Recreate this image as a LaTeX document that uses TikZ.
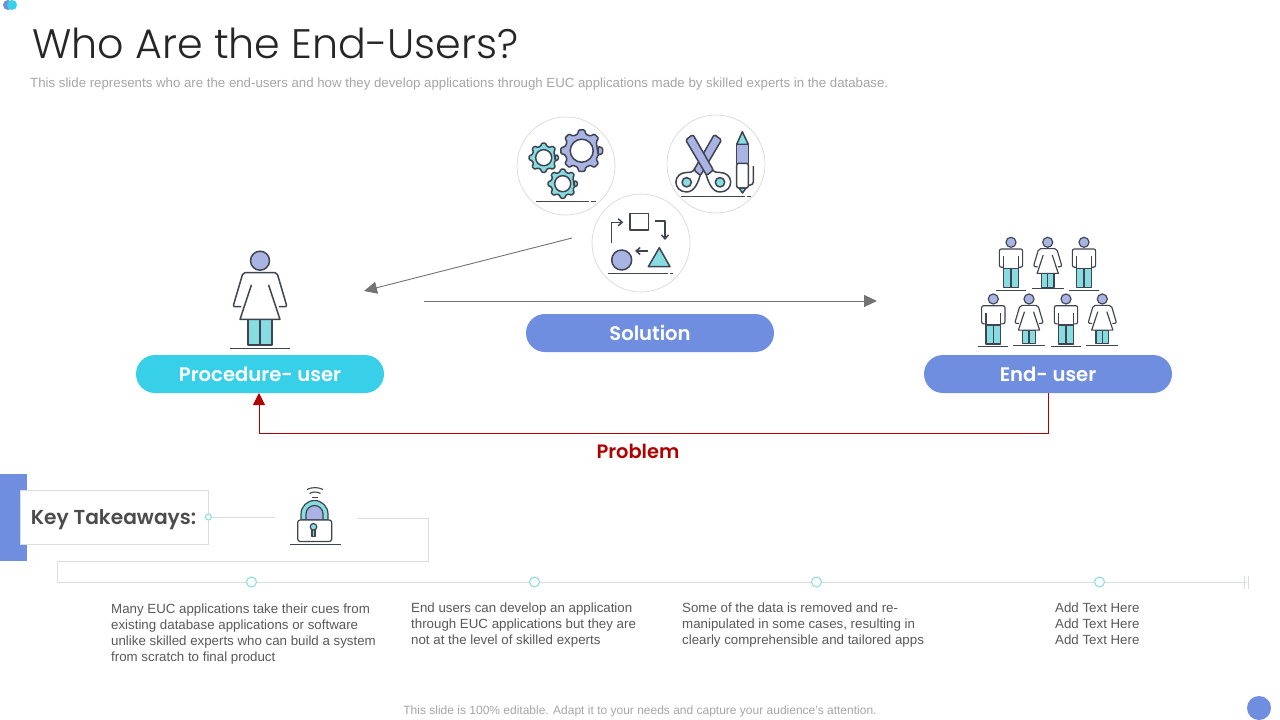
\documentclass[tikz,border=0pt]{standalone}
\usepackage{fontspec}
\setmainfont{Liberation Sans}
\newfontfamily\headfont{Poppins SemiBold}
\newfontfamily\titlefont{Poppins Light}
\usetikzlibrary{arrows.meta}
\definecolor{inkline}{HTML}{3F4450}
\definecolor{iconblue}{HTML}{A9B4E4}
\definecolor{iconteal}{HTML}{86DCE0}
\definecolor{pillblue}{HTML}{6F8EE0}
\definecolor{pillcyan}{HTML}{38D0E8}
\definecolor{wiregray}{HTML}{DADDE0}
\definecolor{bodygray}{HTML}{595959}
\definecolor{probred}{HTML}{B00000}
\tikzset{
  pill/.style={rounded corners=19pt, minimum width=248pt, minimum height=38pt, inner sep=0pt, text=white, font=\headfont\fontsize{19.6}{19.6}\selectfont},
  iconring/.style={draw=black!15, fill=white, circle, minimum size=98pt, inner sep=0pt, line width=.7pt},
  tickdot/.style={draw=iconteal, fill=white, circle, minimum size=10pt, inner sep=0pt, line width=1pt},
  bodytext/.style={text=bodygray, align=left, anchor=north west, inner sep=0pt, font=\fontsize{13.3}{16}\selectfont},
  icon/.style={draw=inkline, line width=1.5pt, line join=round},
  thinicon/.style={draw=inkline, line width=1.15pt, line join=round},
  pics/womanfig/.style={code={
    \draw[#1, fill=iconteal] (-12,58.7) rectangle (12,84.5);
    \draw[#1] (0,58.7) -- (0,84.5);
    \draw[#1, rounded corners=2pt] (-19,46) -- (-27,46) -- (-17,12) -- (17,12) -- (27,46) -- (19,46);
    \draw[#1, fill=white] (-8.5,24) -- (-20,58.7) -- (20,58.7) -- (8.5,24);
    \draw[#1, fill=iconblue] (0,0) circle (9.5);
    \draw[inkline, line width=.9pt] (-30,88) -- (30,88);
  }},
  pics/manfig/.style={code={
    \draw[#1, fill=iconteal] (-13.8,49) rectangle (13.8,85);
    \draw[#1] (0,49) -- (0,85);
    \draw[#1, rounded corners=2pt] (-13.8,47) -- (-22,47) -- (-22,12.6) -- (22,12.6) -- (22,47) -- (13.8,47);
    \draw[#1] (-13.8,26) -- (-13.8,85) (13.8,26) -- (13.8,85);
    \draw[#1, fill=iconblue] (0,0) circle (9.5);
    \draw[inkline, line width=.9pt] (-28,90) -- (28,90);
  }},
  pics/gearfig/.style={code={
    \draw[icon, fill=#1, rounded corners=1pt] (14:17) \foreach \a in {0,45,...,315} { -- (\a-14:17) -- (\a-8:21) -- (\a+8:21) -- (\a+14:17) } -- cycle;
    \draw[icon, fill=white] (0,0) circle (11.5);
  }}
}
\begin{document}
\begin{tikzpicture}[x=1pt, y=-1pt]
  \useasboundingbox (0,0) rectangle (1280,720);
  \fill[white] (0,0) rectangle (1280,720);

  \fill[pillblue] (8,5) circle (5);
  \fill[pillcyan] (12,5) circle (5);
  \fill[pillblue] (1259,708) circle (12);

  \node (title) at (32,43) [anchor=west, inner sep=0pt, text=black!85, font=\titlefont\fontsize{41.2}{44}\selectfont] {Who Are the End-Users?};
  \node (subtitle) at (30,84) [anchor=west, inner sep=0pt, text=black!35, font=\fontsize{13.25}{14}\selectfont] {This slide represents who are the end-users and how they develop applications through EUC applications made by skilled experts in the database.};
  \node (footer) at (640,711) [inner sep=0pt, text=black!35, font=\fontsize{12}{14}\selectfont] {This slide is 100\% editable. Adapt it to your needs and capture your audience's attention.};

  \node (gearring) at (566,166) [iconring] {};
  \node (cutring) at (716,164) [iconring] {};
  \node (shapering) at (641,243) [iconring] {};

  \pic at (581.7,150.7) {gearfig=iconblue};
  \pic[scale=.7] at (543.7,157.7) {gearfig=iconteal};
  \pic[scale=.7] at (562.7,183.7) {gearfig=iconteal};
  \draw[inkline, line width=.9pt] (536,201) -- (589,201) (591,201) -- (596,201);

  \draw[icon, fill=white] (705.5,172) .. controls (708,182) and (712,192) .. (720,192) .. controls (727,192) and (730.7,187) .. (730.7,182) .. controls (730.7,176.5) and (726,172.5) .. (720,172.5) .. controls (717,172.5) and (714,173) .. (711.5,168);
  \draw[icon, fill=white] (701.1,172) .. controls (698.6,182) and (694.6,192) .. (686.6,192) .. controls (679.6,192) and (675.9,187) .. (675.9,182) .. controls (675.9,176.5) and (680.6,172.5) .. (686.6,172.5) .. controls (689.6,172.5) and (692.6,173) .. (695.1,168);
  \draw[icon, fill=iconblue, rounded corners=1.5pt] (721.5,140) -- (714.3,134.5) -- (693.9,170) -- (700.5,175.5) -- cycle;
  \draw[icon, fill=iconblue, rounded corners=1.5pt] (685.7,140) -- (692.9,134.5) -- (713.3,170) -- (706.7,175.5) -- cycle;
  \draw[icon, fill=iconteal] (686.7,182.3) circle (4.7);
  \draw[icon, fill=iconteal] (720,182.3) circle (4.7);
  \draw[icon, fill=iconteal] (736.7,144.3) -- (742.3,131.7) -- (748.3,144.3) -- cycle;
  \draw[icon, fill=iconblue] (736.7,144.3) rectangle (748.3,163.3);
  \draw[icon, fill=white, rounded corners=2pt] (736.7,163.3) -- (736.7,188) -- (748.3,188) -- (748.3,163.3) -- cycle;
  \draw[icon, fill=iconteal] (739,188) -- (742.5,193) -- (746,188) -- cycle;
  \draw[icon, rounded corners=3pt] (748.3,185) -- (753.3,185) -- (753.3,166);
  \draw[inkline, line width=.9pt] (681,196) -- (745,196) (747,196) -- (751,196);

  \draw[icon] (630,213.7) rectangle (648.3,230);
  \draw[icon, -{Straight Barb[length=4pt,width=7pt]}] (611.7,243.3) -- (611.7,222.3) -- (623.3,222.3);
  \draw[icon, -{Straight Barb[length=4pt,width=7pt]}] (655,221) -- (665,221) -- (665,240);
  \draw[icon, -{Straight Barb[length=4pt,width=7pt]}] (648.3,251) -- (635,251);
  \draw[icon, fill=iconblue] (621.7,260) circle (10);
  \draw[icon, fill=iconteal] (648.3,266.7) -- (670,266.7) -- (659.3,247.7) -- cycle;
  \draw[inkline, line width=.9pt] (608,273.3) -- (668,273.3) (670,273.3) -- (673,273.3);

  \pic at (260,260.7) {womanfig=icon};
  \pic[scale=.53] at (1011,242.3) {manfig=thinicon};
  \pic[scale=.53] at (1047.7,242.3) {womanfig=thinicon};
  \pic[scale=.53] at (1084,242.3) {manfig=thinicon};
  \pic[scale=.53] at (993.3,299) {manfig=thinicon};
  \pic[scale=.53] at (1029,299) {womanfig=thinicon};
  \pic[scale=.53] at (1066,299) {manfig=thinicon};
  \pic[scale=.53] at (1102.3,299) {womanfig=thinicon};

  \node (procuser) at (260,374) [pill, fill=pillcyan] {Procedure- user};
  \node (solution) at (650,333) [pill, fill=pillblue] {Solution};
  \node (enduser) at (1048,374) [pill, fill=pillblue] {End- user};
  \node (problem) at (638,451) [inner sep=0pt, text=probred, font=\headfont\fontsize{19.4}{19.4}\selectfont] {Problem};

  \coordinate (backfrom) at (572,238);
  \coordinate (backto) at (364,291);
  \coordinate (solfrom) at (424,301);
  \coordinate (solto) at (877,301);
  \coordinate (probto) at (259,393);
  \draw[black!55, line width=.9pt, -{Triangle[length=13pt,width=12pt]}] (backfrom) -- (backto);
  \draw[black!55, line width=.9pt, -{Triangle[length=13pt,width=12pt]}] (solfrom) -- (solto);
  \draw[probred, line width=.9pt, -{Triangle[length=12pt,width=12pt]}] (enduser.south) -- (1048,433) -| (probto);

  \fill[pillblue] (0,474) rectangle (27,561);
  \node (keybox) at (114,517) [draw=wiregray, fill=white, minimum width=188pt, minimum height=54pt, inner sep=0pt, line width=.8pt] {};
  \node (keytext) at (113.5,520) [inner sep=0pt, text=black!70, font=\headfont\fontsize{20.2}{20.2}\selectfont] {Key Takeaways:};

  \coordinate (wireA) at (275,517);
  \coordinate (wireB) at (357,518);
  \coordinate (wireC) at (57,582);
  \coordinate (wireD) at (1247,582);
  \draw[wiregray, line width=1pt] (keybox.east) -- (wireA);
  \draw[wiregray, line width=1pt] (wireB) -- (428,518) -- (428,561) -- (57,561) -- (wireC) -- (wireD);
  \draw[wiregray, line width=1pt] (1244,576) -- (1244,589) (1248,576) -- (1248,589);
  \node (keydot) at (keybox.east) [tickdot, minimum size=6pt] {};
  \node (dotA) at (251.5,582) [tickdot] {};
  \node (dotB) at (534.5,582) [tickdot] {};
  \node (dotC) at (816.5,582) [tickdot] {};
  \node (dotD) at (1099.5,582) [tickdot] {};

  \draw[icon, line width=1.2pt, fill=iconteal] (301,520) -- (301,514) arc (180:360:13.5) -- (328,520) -- cycle;
  \draw[icon, line width=1.2pt, fill=iconblue] (306,520) -- (306,514) arc (180:360:8.5) -- (323,520) -- cycle;
  \draw[icon, line width=1.2pt, fill=white, rounded corners=2.5pt] (297.7,520) rectangle (331.7,541.5);
  \draw[icon, line width=1.2pt, fill=iconteal] (312,529) rectangle (315,536.5);
  \draw[icon, line width=1.2pt, fill=iconteal] (313.5,526.8) circle (3.3);
  \draw[inkline, line width=1.1pt] (307,489.5) .. controls (311,487) and (319,487) .. (323,489.5);
  \draw[inkline, line width=1.1pt] (309.5,493.5) .. controls (312.5,491.5) and (317.5,491.5) .. (320.5,493.5);
  \draw[inkline, line width=1.1pt] (312,497.5) -- (318,497.5);
  \draw[inkline, line width=.9pt] (290,544.3) -- (340.7,544.3);

  \node (noteA) at (111,604) [bodytext] {Many EUC applications take their cues from\\existing database applications or software\\unlike skilled experts who can build a system\\from scratch to final product};
  \node (noteB) at (411,603) [bodytext] {End users can develop an application\\through EUC applications but they are\\not at the level of skilled experts};
  \node (noteC) at (682,603) [bodytext] {Some of the data is removed and re-\\manipulated in some cases, resulting in\\clearly comprehensible and tailored apps};
  \node (noteD) at (1055,603) [bodytext] {Add Text Here\\Add Text Here\\Add Text Here};
\end{tikzpicture}
\end{document}
